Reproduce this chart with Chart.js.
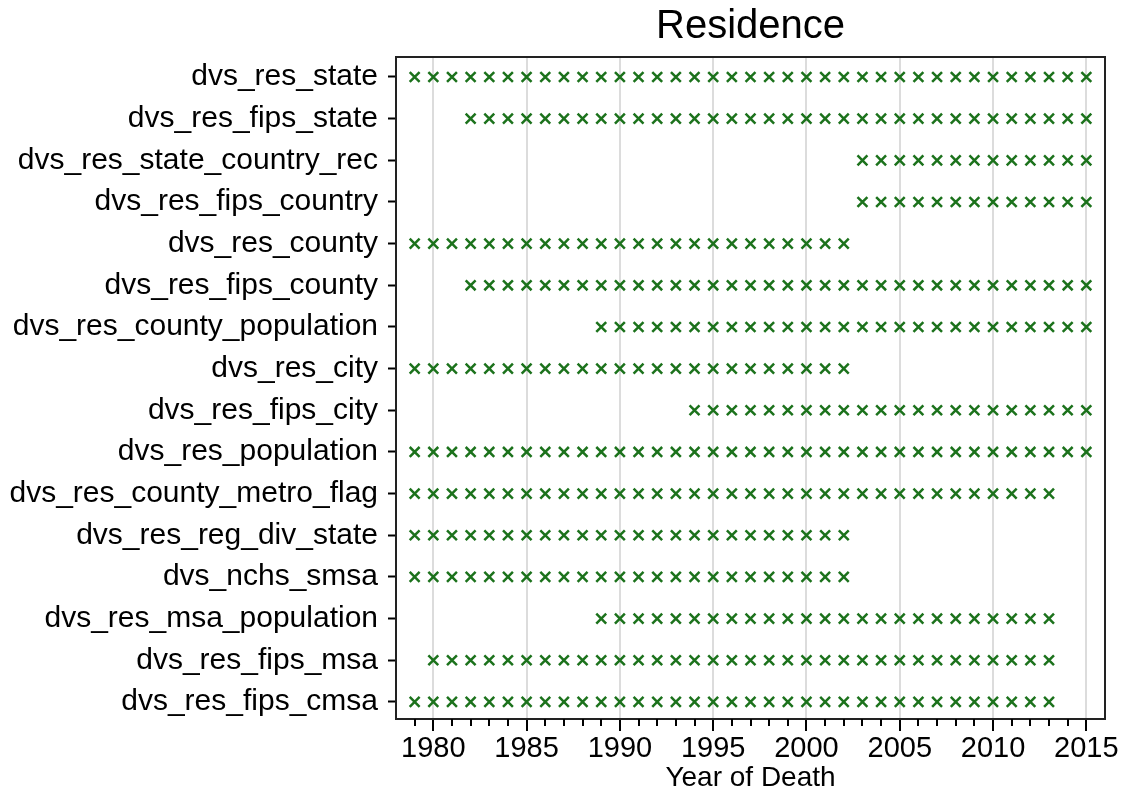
<!DOCTYPE html>
<html><head><meta charset="utf-8">
<script src="https://cdn.jsdelivr.net/npm/chart.js@4/dist/chart.umd.min.js"></script>
<style>html,body{margin:0;padding:0;background:#fff}#wrap{width:1129px;height:797px}</style>
</head><body><div id="wrap"><canvas id="c" width="1129" height="797"></canvas></div>
<script>
// ---------- data ----------
const chartTitle = 'Residence';
const xAxisTitle = 'Year of Death';
const categories = [
  'dvs_res_state',
  'dvs_res_fips_state',
  'dvs_res_state_country_rec',
  'dvs_res_fips_country',
  'dvs_res_county',
  'dvs_res_fips_county',
  'dvs_res_county_population',
  'dvs_res_city',
  'dvs_res_fips_city',
  'dvs_res_population',
  'dvs_res_county_metro_flag',
  'dvs_res_reg_div_state',
  'dvs_nchs_smsa',
  'dvs_res_msa_population',
  'dvs_res_fips_msa',
  'dvs_res_fips_cmsa'
];
const years = [1979,
  1980,1981,1982,1983,1984,
  1985,1986,1987,1988,1989,
  1990,1991,1992,1993,1994,
  1995,1996,1997,1998,1999,
  2000,2001,2002,2003,2004,
  2005,2006,2007,2008,2009,
  2010,2011,2012,2013,2014,
  2015];
// one character per year above ('x' = marker present), groups: 1979|80-84|85-89|90-94|95-99|00-04|05-09|10-14|2015
const presence = [
  'x|xxxxx|xxxxx|xxxxx|xxxxx|xxxxx|xxxxx|xxxxx|x', // dvs_res_state
  '-|--xxx|xxxxx|xxxxx|xxxxx|xxxxx|xxxxx|xxxxx|x', // dvs_res_fips_state
  '-|-----|-----|-----|-----|---xx|xxxxx|xxxxx|x', // dvs_res_state_country_rec
  '-|-----|-----|-----|-----|---xx|xxxxx|xxxxx|x', // dvs_res_fips_country
  'x|xxxxx|xxxxx|xxxxx|xxxxx|xxx--|-----|-----|-', // dvs_res_county
  '-|--xxx|xxxxx|xxxxx|xxxxx|xxxxx|xxxxx|xxxxx|x', // dvs_res_fips_county
  '-|-----|----x|xxxxx|xxxxx|xxxxx|xxxxx|xxxxx|x', // dvs_res_county_population
  'x|xxxxx|xxxxx|xxxxx|xxxxx|xxx--|-----|-----|-', // dvs_res_city
  '-|-----|-----|----x|xxxxx|xxxxx|xxxxx|xxxxx|x', // dvs_res_fips_city
  'x|xxxxx|xxxxx|xxxxx|xxxxx|xxxxx|xxxxx|xxxxx|x', // dvs_res_population
  'x|xxxxx|xxxxx|xxxxx|xxxxx|xxxxx|xxxxx|xxxx-|-', // dvs_res_county_metro_flag
  'x|xxxxx|xxxxx|xxxxx|xxxxx|xxx--|-----|-----|-', // dvs_res_reg_div_state
  'x|xxxxx|xxxxx|xxxxx|xxxxx|xxx--|-----|-----|-', // dvs_nchs_smsa
  '-|-----|----x|xxxxx|xxxxx|xxxxx|xxxxx|xxxx-|-', // dvs_res_msa_population
  '-|xxxxx|xxxxx|xxxxx|xxxxx|xxxxx|xxxxx|xxxx-|-', // dvs_res_fips_msa
  'x|xxxxx|xxxxx|xxxxx|xxxxx|xxxxx|xxxxx|xxxx-|-'  // dvs_res_fips_cmsa
];
const xMajorTicks = [1980,1985,1990,1995,2000,2005,2010,2015];
const xMinorTicks = [1979,1981,1982,1983,1984,1986,1987,1988,1989,1991,1992,1993,1994,
  1996,1997,1998,1999,2001,2002,2003,2004,2006,2007,2008,2009,2011,2012,2013,2014];

// ---------- build points ----------
const points = [];
presence.forEach((row, r) => {
  const flags = row.replace(/\|/g, '');
  flags.split('').forEach((ch, i) => {
    if (ch === 'x') points.push({x: years[i], y: r});
  });
});

const FONT = "'Liberation Sans', Arial, sans-serif";

const minorTickPlugin = {
  id: 'minorTicks',
  afterDraw(chart) {
    const ctx = chart.ctx, xs = chart.scales.x, area = chart.chartArea;
    ctx.save();
    ctx.strokeStyle = '#000';
    ctx.lineWidth = 2;
    xMinorTicks.forEach(v => {
      const px = Math.round(xs.getPixelForValue(v));
      ctx.beginPath();
      ctx.moveTo(px, area.bottom);
      ctx.lineTo(px, area.bottom + 7);
      ctx.stroke();
    });
    ctx.restore();
  }
};
const framePlugin = {
  id: 'frame',
  beforeDatasetsDraw(chart) {
    const ctx = chart.ctx, a = chart.chartArea;
    ctx.save();
    ctx.strokeStyle = '#222';
    ctx.lineWidth = 2;
    ctx.strokeRect(a.left, a.top, a.right - a.left, a.bottom - a.top);
    ctx.restore();
  }
};

new Chart(document.getElementById('c'), {
  type: 'scatter',
  data: {
    datasets: [{
      data: points,
      showLine: false,
      pointStyle: 'crossRot',
      pointRadius: 7,
      pointHoverRadius: 7,
      borderWidth: 2.5,
      borderColor: '#1c721c',
      backgroundColor: '#1c721c'
    }]
  },
  options: {
    responsive: false,
    devicePixelRatio: 1,
    animation: false,
    layout: { padding: { left: 0, right: 24, top: 0, bottom: 0 } },
    plugins: {
      legend: { display: false },
      tooltip: { enabled: false },
      title: {
        display: true, text: chartTitle, fullSize: false,
        color: '#000', font: { family: FONT, size: 40, weight: 'normal' },
        padding: { top: 3, bottom: 6 }
      }
    },
    scales: {
      x: {
        type: 'linear', min: 1978, max: 2016,
        afterBuildTicks: s => { s.ticks = xMajorTicks.map(v => ({ value: v })); },
        afterFit: s => { s.height = 78; },
        grid: { color: '#dcdcdc', lineWidth: 2, drawTicks: true, tickLength: 12, tickColor: '#000', tickWidth: 2 },
        border: { display: true, color: '#222', width: 2 },
        ticks: { font: { family: FONT, size: 29 }, color: '#000', padding: 1, maxRotation: 0, autoSkip: false,
                 callback: v => String(v) },
        title: { display: true, text: xAxisTitle, color: '#000', font: { family: FONT, size: 28 },
                 padding: { top: 0, bottom: 2 } }
      },
      y: {
        type: 'linear', reverse: true, min: -0.48, max: 15.41,
        afterBuildTicks: s => { s.ticks = categories.map((c, i) => ({ value: i })); },
        afterFit: s => { s.width = 396; },
        grid: { drawOnChartArea: false, drawTicks: true, tickLength: 8, tickColor: '#000', tickWidth: 2 },
        border: { display: true, color: '#222', width: 2 },
        ticks: { font: { family: FONT, size: 30 }, color: '#000', padding: 10, autoSkip: false,
                 callback: v => categories[v] }
      }
    }
  },
  plugins: [framePlugin, minorTickPlugin]
});
</script>
</body></html>
